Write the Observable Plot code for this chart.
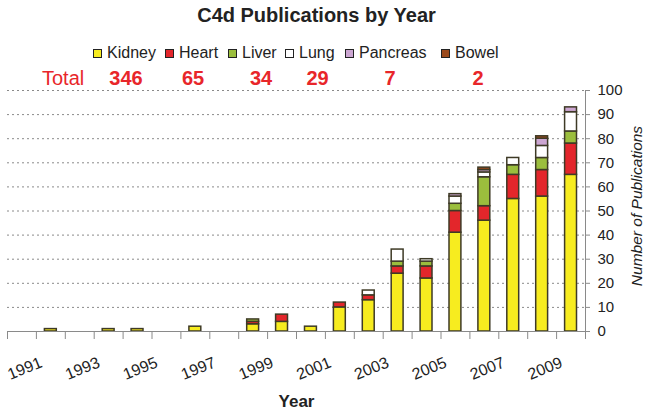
<!DOCTYPE html>
<html>
<head>
<meta charset="utf-8">
<script src="https://cdn.jsdelivr.net/npm/d3@7"></script>
<script src="https://cdn.jsdelivr.net/npm/@observablehq/plot@0.6"></script>
<style>
  html, body { margin: 0; padding: 0; background: #fff; }
  body { position: relative; width: 649px; height: 413px; overflow: hidden; font-family: "Liberation Sans", Arial, sans-serif; }
  #header { position: absolute; left: 0; top: 0; width: 649px; height: 70px; z-index: 2; }
  #header div { position: absolute; white-space: nowrap; line-height: 1; }
  .sw { position: absolute; width: 7px; height: 7px; border: 1px solid #222; }
  #chart { position: absolute; left: 0; top: 70px; z-index: 1; }
  #chart svg { display: block; overflow: visible; }
</style>
</head>
<body>
<div id="header"></div>
<div id="chart"></div>
<script>
const title = "C4d Publications by Year";
const organs = ["Kidney", "Heart", "Liver", "Lung", "Pancreas", "Bowel"];
const colors = ["#F7EC1F", "#E3262B", "#9BBE3D", "#FFFFFF", "#CCA6D2", "#9B4A1C"];
const totals = [346, 65, 34, 29, 7, 2];
const years = [1991,1992,1993,1994,1995,1996,1997,1998,1999,2000,2001,2002,2003,2004,2005,2006,2007,2008,2009,2010];
const kidney   = [0,1,0,1,1,0,2,0,3,4,2,10,13,24,22,41,46,55,56,65];
const heart    = [0,0,0,0,0,0,0,0,1,3,0,2,2,3,5,9,6,10,11,13];
const liver    = [0,0,0,0,0,0,0,0,1,0,0,0,0,2,2,3,12,4,5,5];
const lung     = [0,0,0,0,0,0,0,0,0,0,0,0,2,5,1,3,2,3,5,8];
const pancreas = [0,0,0,0,0,0,0,0,0,0,0,0,0,0,0,1,1,0,3,2];
const bowel    = [0,0,0,0,0,0,0,0,0,0,0,0,0,0,0,0,1,0,1,0];
const labelYears = [1991,1993,1995,1997,1999,2001,2003,2005,2007,2009];
const yTicks = [0,10,20,30,40,50,60,70,80,90,100];
const yLabel = "Number of Publications";
const xLabel = "Year";

const series = [kidney, heart, liver, lung, pancreas, bowel];
const data = [];
years.forEach((yr, i) => {
  organs.forEach((o, k) => {
    if (series[k][i] > 0) data.push({year: yr, next: yr + 1, organ: o, value: series[k][i]});
  });
});
const boundaries = years.concat([years[years.length - 1] + 1]);

// Header (title, legend, totals)
const header = document.getElementById("header");
function add(html, css) {
  const d = document.createElement("div");
  d.textContent = html;
  Object.assign(d.style, css);
  header.appendChild(d);
  return d;
}
add(title, {left: "-8px", width: "649px", textAlign: "center", top: "5px", fontSize: "20px", fontWeight: "bold", color: "#222"});
const legendX = [93, 165, 228, 285, 345, 441];
organs.forEach((o, k) => {
  const sw = document.createElement("span");
  sw.className = "sw";
  sw.style.left = legendX[k] + "px";
  sw.style.top = "49px";
  sw.style.background = colors[k];
  header.appendChild(sw);
  add(o, {left: (legendX[k] + 14) + "px", top: "44.8px", fontSize: "16px", color: "#222"});
});
add("Total", {left: "42px", top: "68px", fontSize: "20px", color: "#E8262A"});
const totalX = [126, 193, 261, 317.5, 390, 478];
totals.forEach((t, k) => {
  add(String(t), {left: (totalX[k] - 40) + "px", width: "80px", textAlign: "center", top: "68px", fontSize: "20px", fontWeight: "bold", color: "#E8262A"});
});

const axisGray = "#8a8a8a";
const plot = Plot.plot({
  width: 649,
  height: 343,
  marginTop: 20,
  marginBottom: 82,
  marginLeft: 7,
  marginRight: 64,
  style: {fontFamily: "'Liberation Sans', Arial, sans-serif", fontSize: "15px", color: "#222", background: "transparent", overflow: "visible"},
  x: {domain: [years[0], years[years.length - 1] + 1], axis: null},
  y: {domain: [0, 100], axis: null},
  color: {domain: organs, range: colors},
  marks: [
    Plot.gridY(yTicks.slice(1), {stroke: "#8a8a8a", strokeOpacity: 1, strokeDasharray: "2,3", strokeWidth: 1}),
    Plot.axisX(boundaries, {tickSize: 8, tickFormat: () => "", stroke: axisGray, label: null}),
    Plot.axisY(yTicks, {anchor: "right", tickSize: 4, tickPadding: 8, stroke: axisGray, label: null, fontSize: 15, fill: "#222"}),
    Plot.rectY(data, Plot.stackY({x1: "year", x2: "next", y: "value", fill: "organ", z: "organ",
      insetLeft: 8.5, insetRight: 8.5, stroke: "#3e3a26", strokeWidth: 1.5})),
    Plot.ruleY([0], {stroke: axisGray}),
    Plot.ruleX([boundaries[boundaries.length - 1]], {stroke: axisGray}),
    Plot.text(labelYears, {x: d => d + 0.6, text: d => String(d), frameAnchor: "bottom", dy: 37, rotate: -22,
      textAnchor: "middle", lineAnchor: "middle", fontSize: 16, fill: "#222"}),
    Plot.text([xLabel], {frameAnchor: "bottom", dy: 70, textAnchor: "middle", lineAnchor: "middle", fontSize: 17, fontWeight: "bold", fill: "#222"}),
    Plot.text([yLabel], {frameAnchor: "right", dx: 52, dy: -5, rotate: -90, textAnchor: "middle", lineAnchor: "middle",
      fontSize: 15.5, fontStyle: "italic", fill: "#222"})
  ]
});
document.getElementById("chart").appendChild(plot);
</script>
</body>
</html>
